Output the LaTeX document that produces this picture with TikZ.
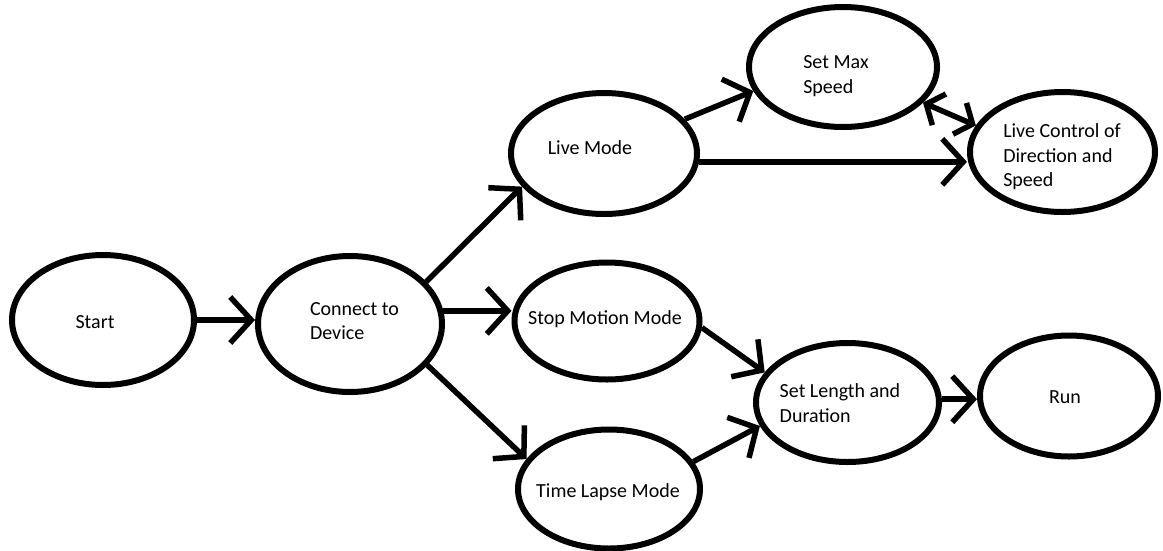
\documentclass[tikz,border=0pt]{standalone}
\usepackage{fontspec}
\setmainfont{Carlito}
\usetikzlibrary{shapes.geometric,arrows.meta}
\begin{document}
\begin{tikzpicture}[x=1pt,y=-1pt,
  state/.style={ellipse,draw,line width=6pt,inner sep=0pt},
  lbl/.style={font=\fontsize{20}{24.5}\selectfont,align=left,inner sep=0pt},
  barb/.tip={Straight Barb[length=21pt,width=46pt]},
  smallbarb/.tip={Straight Barb[length=14pt,width=34pt]},
  flow/.style={line width=5.5pt,-barb},
  flowboth/.style={line width=5.5pt,smallbarb-smallbarb}]
\useasboundingbox (0,0) rectangle (1163,550);

% states (outer stroke size minus line width)
\node[state,minimum width=182pt,minimum height=130pt] (start) at (103,320) {};
\node[state,minimum width=184pt,minimum height=136pt] (conn)  at (350,324) {};
\node[state,minimum width=186pt,minimum height=121pt] (live)  at (604,153.5) {};
\node[state,minimum width=185pt,minimum height=117pt] (stop)  at (607,321) {};
\node[state,minimum width=182pt,minimum height=119pt] (lapse) at (609,489) {};
\node[state,minimum width=188pt,minimum height=120pt] (maxsp) at (843,67) {};
\node[state,minimum width=185pt,minimum height=120pt] (ctrl)  at (1062.5,152) {};
\node[state,minimum width=183pt,minimum height=119pt] (len)   at (847.5,402.5) {};
\node[state,minimum width=178pt,minimum height=121pt] (run)   at (1069,396) {};

% labels
\node[lbl] (startT) at (95,322)    {Start};
\node[lbl] (connT)  at (354.5,321) {Connect to\\Device};
\node[lbl] (liveT)  at (590,148)   {Live Mode};
\node[lbl] (stopT)  at (605,319)   {Stop Motion Mode};
\node[lbl] (lapseT) at (608,492)   {Time Lapse Mode};
\node[lbl] (maxspT) at (836,76)    {Set Max\\Speed};
\node[lbl] (ctrlT)  at (1062,157)  {Live Control of\\Direction and\\Speed};
\node[lbl] (lenT)   at (840,403)   {Set Length and\\Duration};
\node[lbl] (runT)   at (1065,397)  {Run};

% transitions
\draw[flow] (start.east) -- (start.east -| conn.west);
\draw[flow] (conn.29) -- (live.202.5);
\draw[flow] (conn.8) -- (conn.8 -| stop.west);
\draw[flow] (conn.-28) -- (lapse.160.5);
\draw[flow] (live.23) -- (maxsp.195);
\draw[flow] (live.-5) -- (live.-5 -| ctrl.west);
\draw[flowboth] (maxsp.-24) -- (ctrl.163);
\draw[flow] (stop.-4) -- (len.160);
\draw[flow] (lapse.18) -- (len.195.5);
\draw[flow] (len.2) -- (len.2 -| run.west);
\end{tikzpicture}
\end{document}
